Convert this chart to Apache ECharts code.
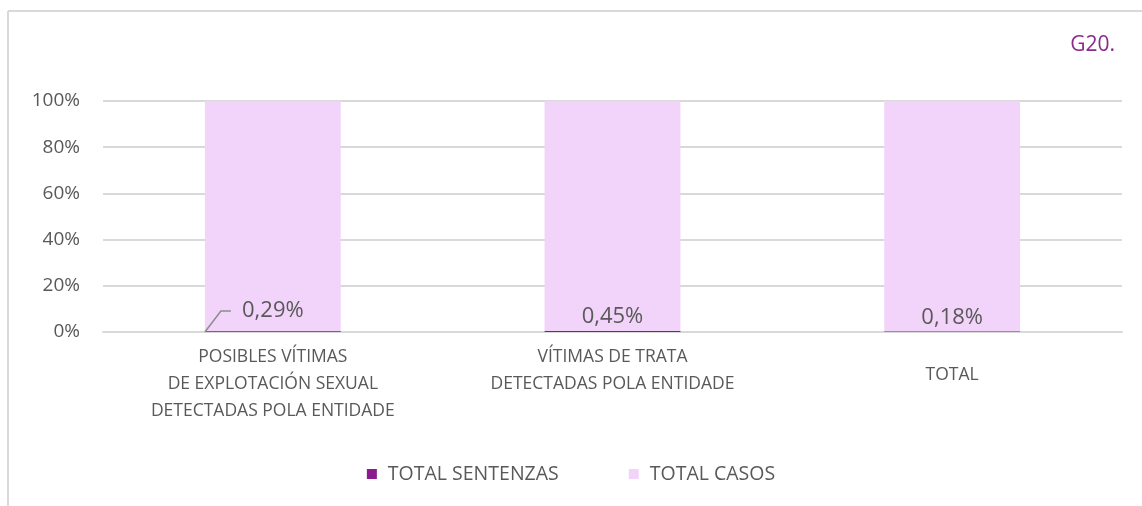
<!DOCTYPE html>
<html>
<head>
<meta charset="utf-8">
<script src="https://cdn.jsdelivr.net/npm/echarts@6/dist/echarts.min.js"></script>
<style>
  html, body { margin: 0; padding: 0; background: #fff; }
  #chart { width: 1142px; height: 506px; }
</style>
</head>
<body>
<div id="chart"></div>
<script>
const categories = [
  "POSIBLES VÍTIMAS\nDE EXPLOTACIÓN SEXUAL\nDETECTADAS POLA ENTIDADE",
  "VÍTIMAS DE TRATA\nDETECTADAS POLA ENTIDADE",
  "TOTAL"
];
// share of sentences over total cases (%)
const totalSentenzas = [0.29, 0.45, 0.18];
const totalCasos = [99.71, 99.55, 99.82];
const yTicks = [0, 20, 40, 60, 80, 100];

const grey = "#595959";
const font = "Open Sans";

const chart = echarts.init(document.getElementById("chart"));

chart.setOption({
  animation: false,
  textStyle: { fontFamily: font },
  title: {
    text: "G20.",
    right: 22,
    top: 30,
    textStyle: { color: "#8a2a8c", fontSize: 21, fontWeight: "normal", fontFamily: font }
  },
  graphic: [
    { type: "line", shape: { x1: 8, y1: 11, x2: 1142, y2: 11 }, style: { stroke: "#d9d9d9", lineWidth: 2 } },
    { type: "line", shape: { x1: 8, y1: 11, x2: 8, y2: 506 }, style: { stroke: "#d9d9d9", lineWidth: 2 } }
  ],
  legend: {
    bottom: 17,
    left: "center",
    icon: "rect",
    itemWidth: 10,
    itemHeight: 10,
    itemGap: 70,
    textStyle: { color: grey, fontSize: 19.5, fontFamily: font, padding: [0, 0, 0, 6] },
    data: ["TOTAL SENTENZAS", "TOTAL CASOS"]
  },
  grid: { left: 103, right: 20, top: 101, bottom: 174 },
  xAxis: {
    type: "category",
    data: categories.map((c, i) =>
      i === 2 ? { value: c, textStyle: { padding: [18, 0, 0, 0] } } : c
    ),
    axisLine: { lineStyle: { color: "#d9d9d9", width: 2 } },
    axisTick: { show: false },
    axisLabel: {
      color: grey,
      fontSize: 17.5,
      lineHeight: 27,
      margin: 12,
      interval: 0
    }
  },
  yAxis: {
    type: "value",
    min: 0,
    max: 100,
    interval: 20,
    axisLine: { show: false },
    axisTick: { show: false },
    splitLine: { lineStyle: { color: "#d9d9d9", width: 2 } },
    axisLabel: {
      color: grey,
      fontSize: 19,
      margin: 23,
      formatter: (v) => (yTicks.includes(v) ? v + "%" : "")
    }
  },
  series: [
    {
      name: "TOTAL SENTENZAS",
      type: "bar",
      stack: "total",
      barWidth: "40%",
      itemStyle: { color: "#8b1a8e" },
      data: totalSentenzas,
      label: {
        show: true,
        position: "top",
        distance: 3,
        color: grey,
        fontSize: 22,
        formatter: (p) => p.value.toFixed(2).replace(".", ",") + "%"
      },
      labelLayout: (p) => (p.dataIndex === 0 ? { dy: -7 } : {}),
      z: 3
    },
    {
      name: "TOTAL CASOS",
      type: "bar",
      stack: "total",
      barWidth: "40%",
      itemStyle: { color: "#f2d4fa" },
      data: totalCasos,
      z: 2
    }
  ]
});

// leader line for the moved label of the first bar (Excel-style)
const p0 = chart.convertToPixel({ gridIndex: 0 }, [0, 0]);
const p1 = chart.convertToPixel({ gridIndex: 0 }, [1, 0]);
const barW = (p1[0] - p0[0]) * 0.4;
const bx = p0[0] - barW / 2;
chart.setOption({
  graphic: [
    {}, {},
    {
      type: "polyline",
      shape: { points: [[bx, p0[1]], [bx + 16, p0[1] - 21], [bx + 26, p0[1] - 21]] },
      style: { stroke: "#8c8c8c", lineWidth: 1.5, fill: null },
      z: 10
    }
  ]
});
</script>
</body>
</html>
